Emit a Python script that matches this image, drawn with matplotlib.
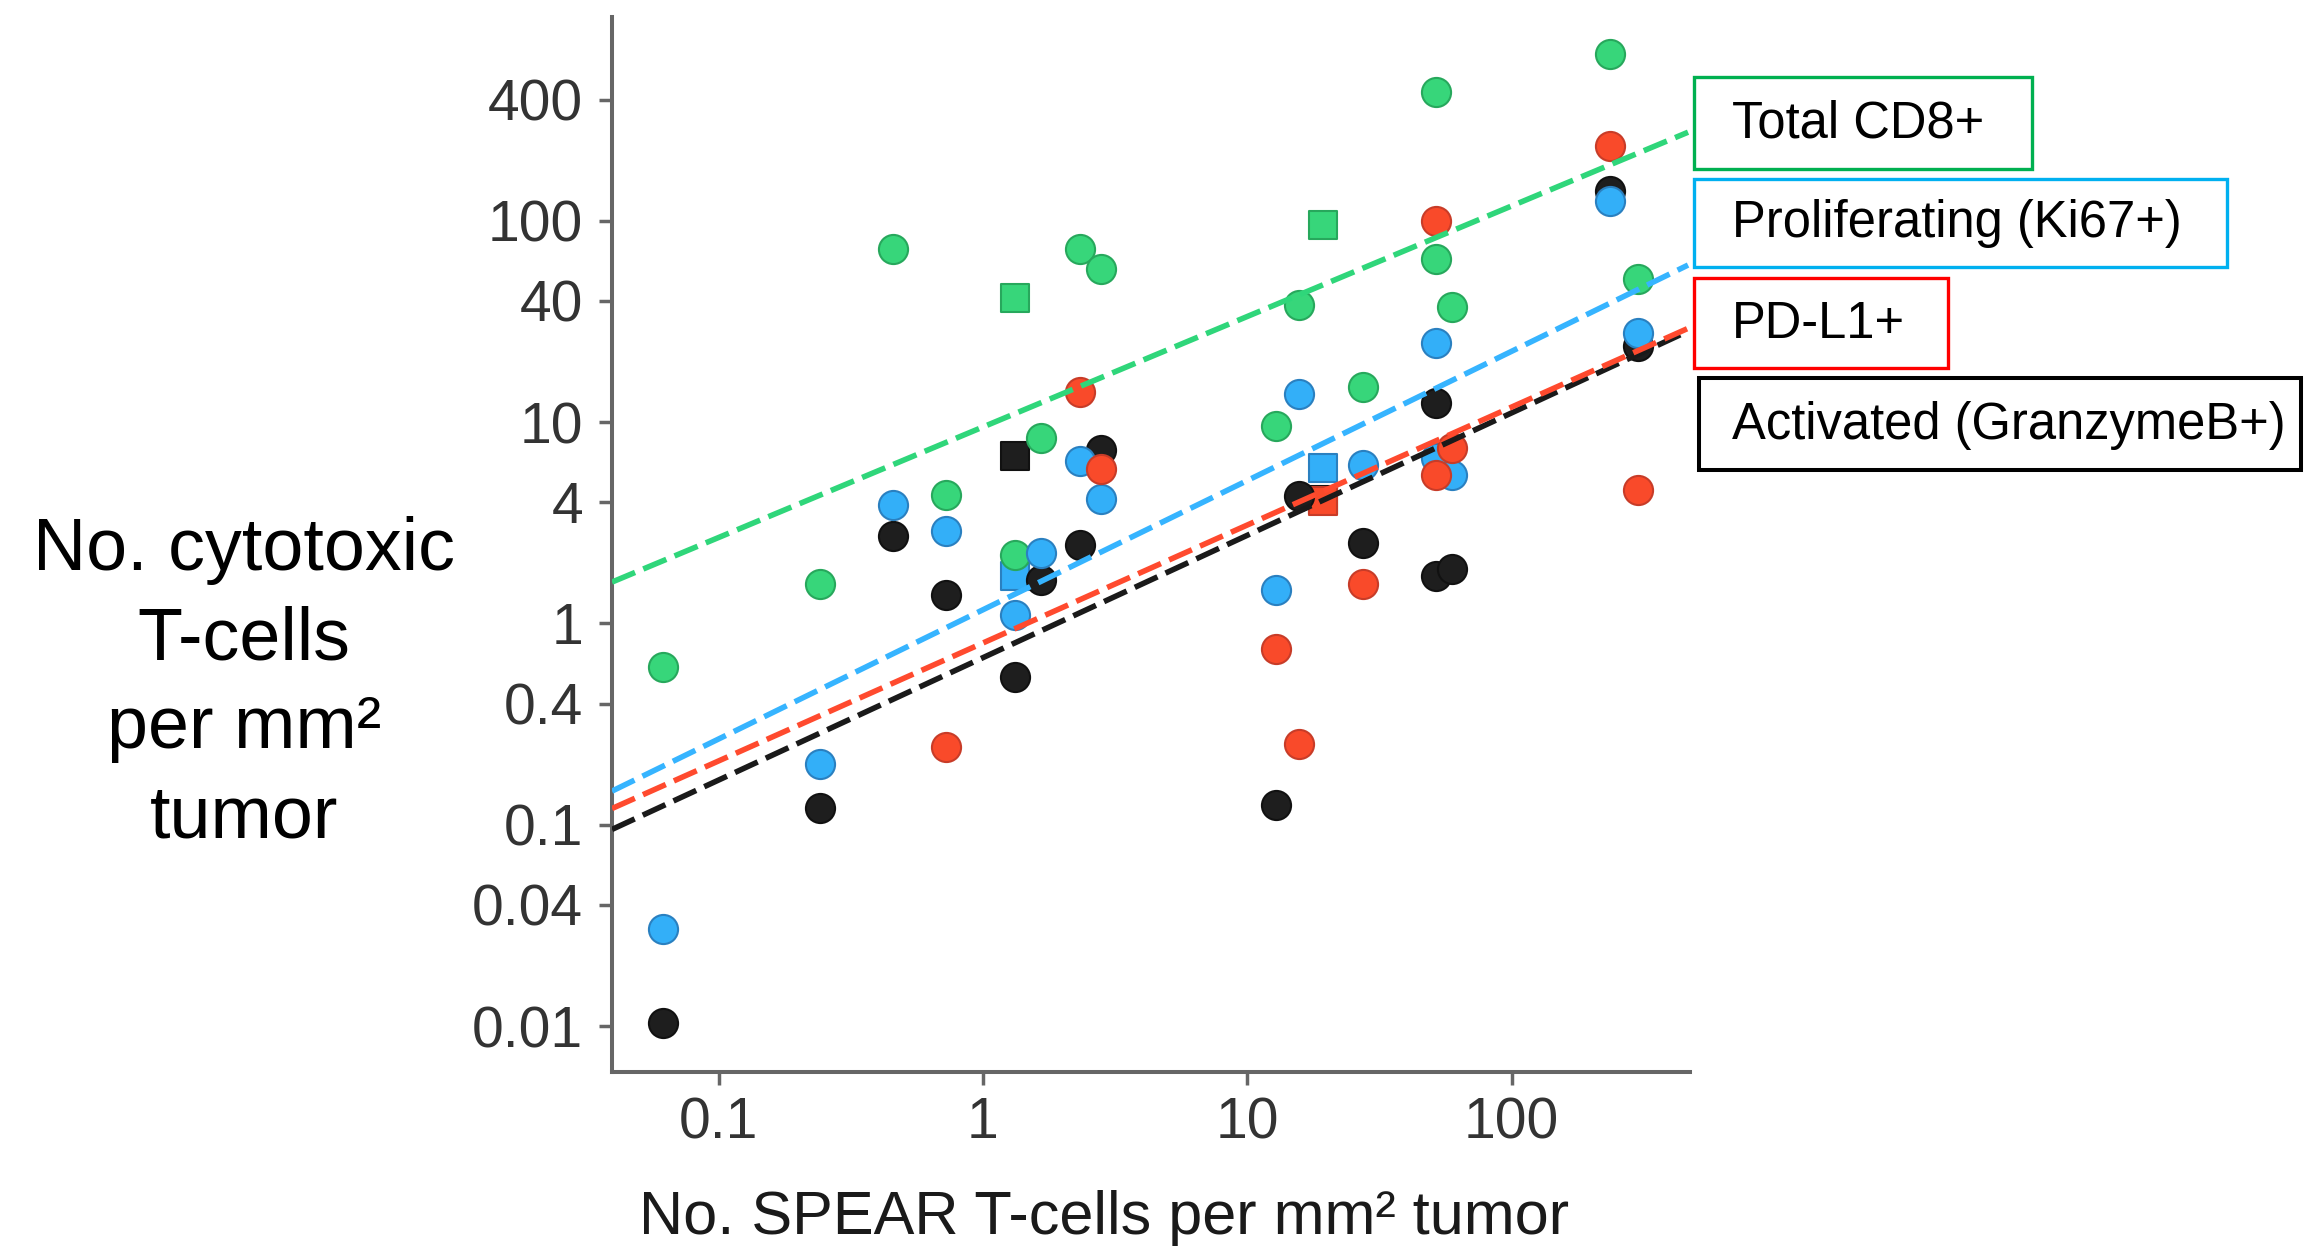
import numpy as np
import matplotlib
matplotlib.use("Agg")
import matplotlib.pyplot as plt
from matplotlib.patches import Rectangle

plt.rcParams['font.family'] = ['Liberation Sans', 'DejaVu Sans']

# x positions (SPEAR T-cells per mm2) of the patients, circles
x_circ = [0.0617, 0.242, 0.456, 0.723, 1.325, 1.663, 2.33, 2.786,
          12.89, 15.64, 27.47, 51.95, 51.95, 59.24, 235.9, 301.0]

green_y = [0.611, 1.565, 72.7, 4.36, 2.19, 8.33, 72.7, 57.7,
           9.62, 38.2, 14.91, 437.8, 64.6, 37.2, 677.8, 51.2]
blue_y = [0.0305, 0.200, 3.87, 2.89, 1.105, 2.23, 6.40, 4.14,
          1.474, 13.77, 6.13, 24.66, 6.64, 5.49, 125.7, 27.7]
black_y = [0.0103, 0.121, 2.73, 1.39, 0.543, 1.645, 2.446, 7.30,
           0.125, 4.32, 2.503, 12.52, 1.722, 1.854, 140.2, 23.9]

# PD-L1 is missing for the first three patients
red_x = [0.723, 2.33, 2.786, 12.89, 15.64, 27.47, 51.95, 51.95, 59.24, 235.9, 301.0]
red_y = [0.244, 14.08, 5.87, 0.744, 0.2515, 1.565, 100.1, 5.49, 7.40, 235.0, 4.61]

# two patients plotted with squares
x_sq = [1.325, 19.42]
green_sq = [41.5, 95.4]
black_sq = [6.78, 4.1]
blue_sq = [1.718, 5.94]
red_sq_x = [19.42]
red_sq = [4.05]

# dashed fit lines: log10(y) = a + b * log10(x)
fit_a = {'green': 0.976, 'blue': 0.068, 'red': -0.097, 'black': -0.170}
fit_b = {'green': 0.549, 'blue': 0.642, 'red': 0.586, 'black': 0.608}
line_x = [0.0395, 465.0]

x_ticks = [0.1, 1, 10, 100]
x_labels = ['0.1', '1', '10', '100']
y_ticks = [0.01, 0.04, 0.1, 0.4, 1, 4, 10, 40, 100, 400]
y_labels = ['0.01', '0.04', '0.1', '0.4', '1', '4', '10', '40', '100', '400']

legend_text = ['Total CD8+', 'Proliferating (Ki67+)', 'PD-L1+', 'Activated (GranzymeB+)']

fill = {'green': '#37d67a', 'blue': '#33aff8', 'red': '#f94a2a', 'black': '#1e1e1e'}
edge = {'green': '#27a85c', 'blue': '#2a80c0', 'red': '#c83c28', 'black': '#111111'}
line_col = {'green': '#2fd67a', 'blue': '#36b4ff', 'red': '#ff4a2e', 'black': '#1a1a1a'}
box_col = ['#00b050', '#00b0f0', '#ff0000', '#000000']

W, H = 2305, 1246
fig = plt.figure(figsize=(W / 100, H / 100), dpi=100)


def fx(px):
    return px / W


def fy(py):
    return 1 - py / H


ax = fig.add_axes([fx(612), fy(1072), (1690 - 612) / W, (1072 - 17) / H])
ax.set_xscale('log')
ax.set_yscale('log')
ax.set_xlim(0.0395, 473)
ax.set_ylim(0.00591, 1030)

ms = 440
sq = 420
# squares first
ax.scatter(x_sq, green_sq, s=sq, marker='s', c=fill['green'], edgecolors=edge['green'], linewidths=1.5, zorder=2)
ax.scatter(x_sq, black_sq, s=sq, marker='s', c=fill['black'], edgecolors=edge['black'], linewidths=1.5, zorder=2)
ax.scatter(x_sq, blue_sq, s=sq, marker='s', c=fill['blue'], edgecolors=edge['blue'], linewidths=1.5, zorder=2)
ax.scatter(red_sq_x, red_sq, s=sq, marker='s', c=fill['red'], edgecolors=edge['red'], linewidths=1.5, zorder=2)

# circles
ax.scatter(x_circ, green_y, s=ms, c=fill['green'], edgecolors=edge['green'], linewidths=1.5, zorder=2)
ax.scatter(x_circ, black_y, s=ms, c=fill['black'], edgecolors=edge['black'], linewidths=1.5, zorder=2)
ax.scatter(x_circ, blue_y, s=ms, c=fill['blue'], edgecolors=edge['blue'], linewidths=1.5, zorder=2)
ax.scatter(red_x, red_y, s=ms, c=fill['red'], edgecolors=edge['red'], linewidths=1.5, zorder=2)

# fit lines over the points
lx = np.array(line_x)
for key in ['green', 'blue', 'black', 'red']:
    ly = 10 ** (fit_a[key] + fit_b[key] * np.log10(lx))
    ax.plot(lx, ly, color=line_col[key], linewidth=4, dashes=(4.5, 1.6), zorder=3)

for s in ['top', 'right']:
    ax.spines[s].set_visible(False)
for s in ['left', 'bottom']:
    ax.spines[s].set_color('#666666')
    ax.spines[s].set_linewidth(2.9)

ax.set_xticks(x_ticks)
ax.set_xticklabels(x_labels)
ax.set_yticks(y_ticks)
ax.set_yticklabels(y_labels)
ax.minorticks_off()
ax.tick_params(axis='both', direction='out', color='#666666', width=2.5, length=9.4,
               labelsize=41, labelcolor='#333333')
ax.tick_params(axis='y', pad=11.5)
ax.tick_params(axis='x', pad=8)

# y axis title, one line at a time
ylab_lines = ['No. cytotoxic', 'T-cells', 'per mm\u00b2', 'tumor']
ylab_base = [570, 660, 748, 837]
for txt, yb in zip(ylab_lines, ylab_base):
    fig.text(fx(244), fy(yb), txt, ha='center', va='baseline', fontsize=53, color='black')

fig.text(fx(1104), fy(1234), 'No. SPEAR T-cells per mm\u00b2 tumor', ha='center', va='baseline',
         fontsize=44, color='#1a1a1a')

# legend boxes
boxes = [(1694, 77, 2032, 169), (1694, 179, 2227, 267), (1694, 278, 1948, 368), (1699, 378, 2301, 470)]
text_base = [138, 237, 338, 439]
box_lw = [2.4, 2.4, 2.4, 2.9]
for (x0, y0, x1, y1), col, txt, yb, lw in zip(boxes, box_col, legend_text, text_base, box_lw):
    fig.patches.append(Rectangle((fx(x0), fy(y1)), (x1 - x0) / W, (y1 - y0) / H,
                                 transform=fig.transFigure, fill=False, edgecolor=col, linewidth=lw))
    fig.text(fx(1732), fy(yb), txt, ha='left', va='baseline', fontsize=36.5, color='black')

fig.savefig('out.png', dpi=100)
